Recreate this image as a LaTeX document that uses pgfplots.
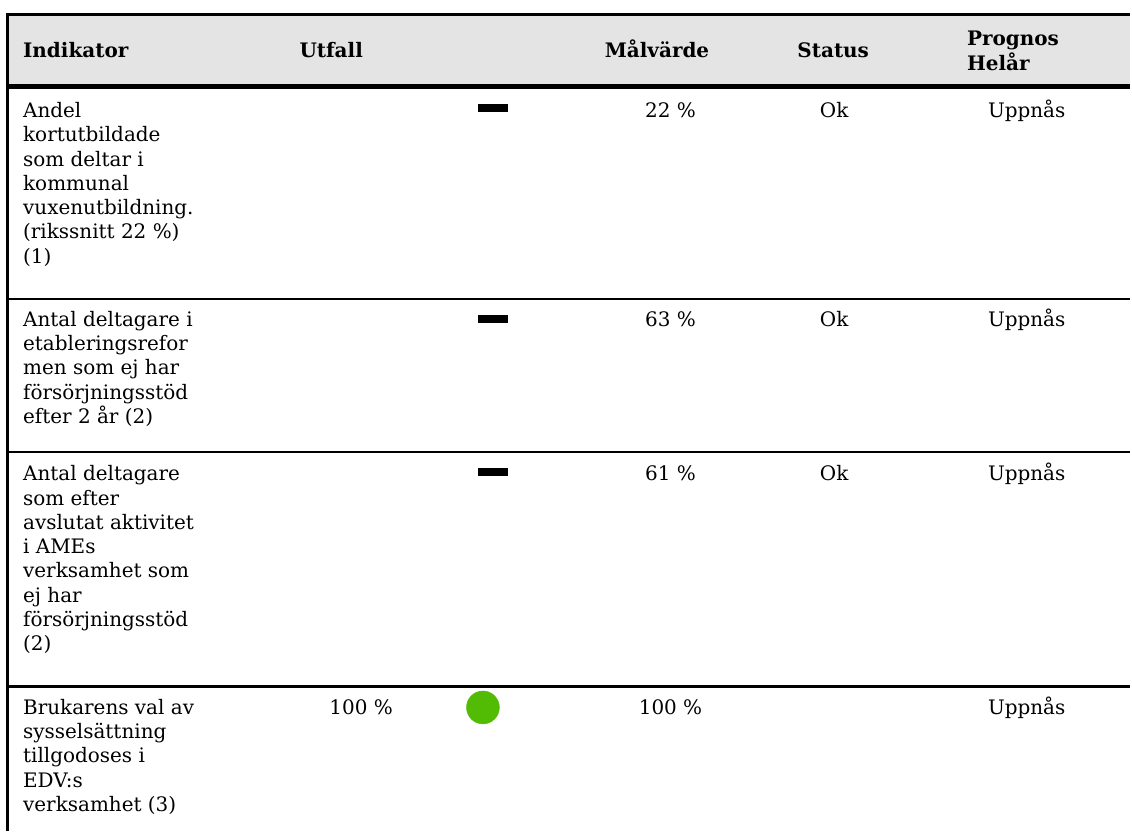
\documentclass[border=0pt]{standalone}
\usepackage{pgfplots}
\pgfplotsset{compat=1.18}
\usepackage{fontspec}
\setmainfont{DejaVu Serif}
\definecolor{hdr}{RGB}{228,228,228}
\definecolor{okgreen}{RGB}{82,188,4}
\newcommand\fs{\fontsize{20}{24.3}\selectfont}
\newcommand\hf{\fontsize{20}{24.3}\selectfont\bfseries}
\begin{document}
\begin{tikzpicture}
\begin{axis}[width=1132pt,height=833pt,scale only axis,
  xmin=0,xmax=1132,ymin=0,ymax=833,y dir=reverse,hide axis,clip=false]
\fill[white] (axis cs:0,0) rectangle (axis cs:1132,833);
\fill[hdr] (axis cs:8,14) rectangle (axis cs:1132,86);
\draw[line width=3pt] (axis cs:6.5,14.5) -- (axis cs:1132,14.5);
\draw[line width=3pt] (axis cs:8,13) -- (axis cs:8,833);
\draw[line width=5pt] (axis cs:8,87) -- (axis cs:1132,87);
\draw[line width=2.3pt] (axis cs:8,300) -- (axis cs:1132,300);
\draw[line width=2.3pt] (axis cs:8,453) -- (axis cs:1132,453);
\draw[line width=2.3pt] (axis cs:8,688) -- (axis cs:1132,688);
% headers
\node[anchor=base west,inner sep=0,font=\hf] at (axis cs:23,58) {Indikator};
\node[anchor=base west,inner sep=0,font=\hf] at (axis cs:300,58) {Utfall};
\node[anchor=base west,inner sep=0,font=\hf] at (axis cs:606,58) {Målvärde};
\node[anchor=base west,inner sep=0,font=\hf] at (axis cs:799,58) {Status};
\node[anchor=base west,inner sep=0,font=\hf] at (axis cs:969,46) {Prognos};
\node[anchor=base west,inner sep=0,font=\hf] at (axis cs:969,70.5) {Helår};
% row 1
\node[anchor=base west,inner sep=0,font=\fs] at (axis cs:23,118) {Andel};
\node[anchor=base west,inner sep=0,font=\fs] at (axis cs:23,142.3) {kortutbildade};
\node[anchor=base west,inner sep=0,font=\fs] at (axis cs:23,166.6) {som deltar i};
\node[anchor=base west,inner sep=0,font=\fs] at (axis cs:23,190.9) {kommunal};
\node[anchor=base west,inner sep=0,font=\fs] at (axis cs:23,215.2) {vuxenutbildning.};
\node[anchor=base west,inner sep=0,font=\fs] at (axis cs:23,239.5) {(rikssnitt 22~\%)};
\node[anchor=base west,inner sep=0,font=\fs] at (axis cs:23,263.8) {(1)};
% row 2
\node[anchor=base west,inner sep=0,font=\fs] at (axis cs:23,327) {Antal deltagare i};
\node[anchor=base west,inner sep=0,font=\fs] at (axis cs:23,351.3) {etableringsrefor};
\node[anchor=base west,inner sep=0,font=\fs] at (axis cs:23,375.6) {men som ej har};
\node[anchor=base west,inner sep=0,font=\fs] at (axis cs:23,399.9) {försörjningsstöd};
\node[anchor=base west,inner sep=0,font=\fs] at (axis cs:23,424.2) {efter 2 år (2)};
% row 3
\node[anchor=base west,inner sep=0,font=\fs] at (axis cs:23,482) {Antal deltagare};
\node[anchor=base west,inner sep=0,font=\fs] at (axis cs:23,506.3) {som efter};
\node[anchor=base west,inner sep=0,font=\fs] at (axis cs:23,530.6) {avslutat aktivitet};
\node[anchor=base west,inner sep=0,font=\fs] at (axis cs:23,554.9) {i AMEs};
\node[anchor=base west,inner sep=0,font=\fs] at (axis cs:23,579.2) {verksamhet som};
\node[anchor=base west,inner sep=0,font=\fs] at (axis cs:23,603.5) {ej har};
\node[anchor=base west,inner sep=0,font=\fs] at (axis cs:23,627.8) {försörjningsstöd};
\node[anchor=base west,inner sep=0,font=\fs] at (axis cs:23,652.1) {(2)};
% row 4
\node[anchor=base west,inner sep=0,font=\fs] at (axis cs:23,716) {Brukarens val av};
\node[anchor=base west,inner sep=0,font=\fs] at (axis cs:23,740.3) {sysselsättning};
\node[anchor=base west,inner sep=0,font=\fs] at (axis cs:23,764.6) {tillgodoses i};
\node[anchor=base west,inner sep=0,font=\fs] at (axis cs:23,788.9) {EDV:s};
\node[anchor=base west,inner sep=0,font=\fs] at (axis cs:23,813.2) {verksamhet (3)};
% values
\node[anchor=base west,inner sep=0,font=\fs] at (axis cs:330,716) {100~\%};
\node[anchor=base,inner sep=0,font=\fs] at (axis cs:672,118) {22~\%};
\node[anchor=base,inner sep=0,font=\fs] at (axis cs:672,327) {63~\%};
\node[anchor=base,inner sep=0,font=\fs] at (axis cs:672,482) {61~\%};
\node[anchor=base,inner sep=0,font=\fs] at (axis cs:672,716) {100~\%};
\node[anchor=base,inner sep=0,font=\fs] at (axis cs:836,118) {Ok};
\node[anchor=base,inner sep=0,font=\fs] at (axis cs:836,327) {Ok};
\node[anchor=base,inner sep=0,font=\fs] at (axis cs:836,482) {Ok};
\node[anchor=base west,inner sep=0,font=\fs] at (axis cs:990,118) {Uppnås};
\node[anchor=base west,inner sep=0,font=\fs] at (axis cs:990,327) {Uppnås};
\node[anchor=base west,inner sep=0,font=\fs] at (axis cs:990,482) {Uppnås};
\node[anchor=base west,inner sep=0,font=\fs] at (axis cs:990,716) {Uppnås};
% status markers
\addplot[only marks, mark=-, mark size=15pt, mark options={line width=8pt, black}]
  coordinates {(494,108) (494,320) (494,473)};
\addplot[only marks, okgreen, mark=*, mark size=16.5pt, mark options={fill=okgreen, draw=okgreen}]
  coordinates {(484,709)};
\end{axis}
\end{tikzpicture}
\end{document}
